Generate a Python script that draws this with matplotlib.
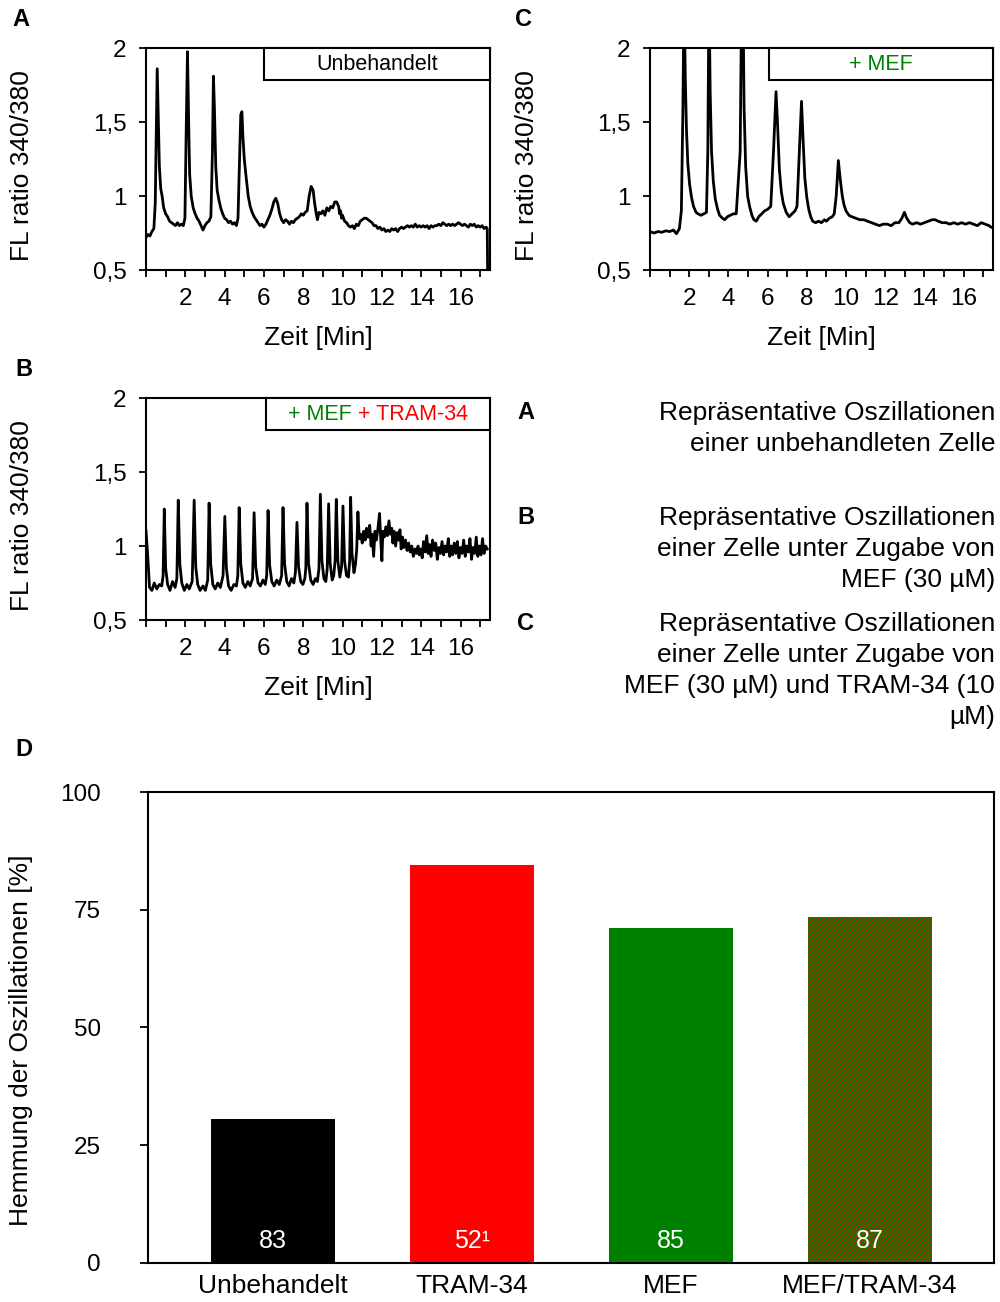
import matplotlib
matplotlib.use("Agg")
import matplotlib.pyplot as plt
from matplotlib.patches import Rectangle

plt.rcParams['font.family'] = ['Liberation Sans', 'DejaVu Sans']
plt.rcParams['hatch.linewidth'] = 0.5

# --- traces (time in min, FL ratio 340/380) ---
trace_unbehandelt = [
    (0.0, 0.72), (0.1, 0.74), (0.2, 0.73), (0.3, 0.76), (0.4, 0.78), (0.47, 0.95), (0.53, 1.5), (0.57, 1.86),
    (0.62, 1.55), (0.68, 1.2), (0.75, 1.05), (0.82, 1.0), (0.9, 0.92), (1.0, 0.88), (1.1, 0.86), (1.2, 0.83),
    (1.3, 0.82), (1.4, 0.81), (1.5, 0.80), (1.6, 0.82), (1.7, 0.80), (1.8, 0.81), (1.9, 0.80), (1.98, 0.85),
    (2.04, 1.4), (2.11, 1.975), (2.17, 1.5), (2.22, 1.15), (2.3, 1.0), (2.4, 0.92), (2.5, 0.88), (2.6, 0.85),
    (2.7, 0.83), (2.8, 0.80), (2.9, 0.77), (3.0, 0.80), (3.1, 0.82), (3.2, 0.83), (3.3, 0.86), (3.38, 1.3),
    (3.43, 1.81), (3.48, 1.6), (3.55, 1.2), (3.62, 1.04), (3.7, 0.98), (3.8, 0.92), (3.9, 0.88), (4.0, 0.85),
    (4.1, 0.84), (4.2, 0.82), (4.3, 0.83), (4.4, 0.81), (4.5, 0.82), (4.6, 0.80), (4.68, 0.85), (4.75, 1.2),
    (4.82, 1.55), (4.88, 1.57), (4.93, 1.40), (5.0, 1.25), (5.1, 1.12), (5.2, 1.0), (5.3, 0.93), (5.4, 0.89),
    (5.5, 0.86), (5.6, 0.84), (5.7, 0.82), (5.8, 0.80), (5.9, 0.81), (6.0, 0.79), (6.1, 0.81), (6.2, 0.84),
    (6.3, 0.87), (6.4, 0.91), (6.5, 0.96), (6.6, 0.985), (6.7, 0.95), (6.8, 0.88), (6.9, 0.84), (7.0, 0.82),
    (7.1, 0.84), (7.2, 0.83), (7.3, 0.81), (7.4, 0.83), (7.5, 0.82), (7.6, 0.84), (7.7, 0.85), (7.8, 0.86),
    (7.9, 0.88), (8.0, 0.87), (8.1, 0.89), (8.2, 0.90), (8.3, 1.0), (8.4, 1.065), (8.5, 1.04), (8.58, 0.95),
    (8.66, 0.88), (8.72, 0.84), (8.8, 0.89), (8.9, 0.88), (9.0, 0.90), (9.1, 0.87), (9.2, 0.92), (9.3, 0.90),
    (9.4, 0.93), (9.5, 0.92), (9.6, 0.96), (9.7, 0.96), (9.8, 0.93), (9.85, 0.88), (9.9, 0.90), (9.95, 0.85),
    (10.0, 0.87), (10.1, 0.83), (10.2, 0.82), (10.3, 0.80), (10.4, 0.79), (10.5, 0.80), (10.6, 0.78),
    (10.7, 0.81), (10.8, 0.80), (10.9, 0.83), (11.0, 0.84), (11.1, 0.85), (11.2, 0.85), (11.3, 0.84),
    (11.4, 0.83), (11.5, 0.82), (11.6, 0.80), (11.7, 0.80), (11.8, 0.78), (11.9, 0.79), (12.0, 0.77),
    (12.1, 0.78), (12.2, 0.76), (12.3, 0.77), (12.4, 0.76), (12.5, 0.78), (12.6, 0.77), (12.7, 0.78),
    (12.8, 0.76), (12.9, 0.78), (13.0, 0.79), (13.1, 0.78), (13.2, 0.79), (13.3, 0.80), (13.4, 0.79),
    (13.5, 0.80), (13.6, 0.79), (13.7, 0.81), (13.8, 0.79), (13.9, 0.80), (14.0, 0.79), (14.1, 0.80),
    (14.2, 0.79), (14.3, 0.80), (14.4, 0.78), (14.5, 0.80), (14.6, 0.79), (14.7, 0.80), (14.8, 0.80),
    (14.9, 0.81), (15.0, 0.80), (15.1, 0.82), (15.2, 0.81), (15.3, 0.80), (15.4, 0.81), (15.5, 0.80),
    (15.6, 0.81), (15.7, 0.80), (15.8, 0.81), (15.9, 0.82), (16.0, 0.81), (16.1, 0.80), (16.2, 0.81),
    (16.3, 0.80), (16.4, 0.79), (16.5, 0.81), (16.6, 0.80), (16.7, 0.81), (16.8, 0.79), (16.9, 0.80),
    (17.0, 0.79), (17.1, 0.80), (17.2, 0.78), (17.3, 0.79), (17.36, 0.78), (17.38, 0.48),
]

trace_mef = [
    (0.0, 0.76), (0.2, 0.75), (0.4, 0.76), (0.6, 0.755), (0.8, 0.765), (1.0, 0.76), (1.2, 0.77), (1.35, 0.745),
    (1.5, 0.78), (1.6, 0.9), (1.68, 1.6), (1.74, 2.4), (1.8, 1.8), (1.86, 1.45), (1.93, 1.22), (2.02, 1.08),
    (2.12, 0.99), (2.22, 0.93), (2.35, 0.89), (2.45, 0.88), (2.6, 0.87), (2.75, 0.88), (2.88, 0.89),
    (2.95, 1.3), (3.01, 2.4), (3.07, 1.7), (3.14, 1.3), (3.23, 1.1), (3.33, 0.98), (3.45, 0.91), (3.55, 0.87),
    (3.7, 0.85), (3.81, 0.84), (3.95, 0.86), (4.1, 0.87), (4.25, 0.88), (4.4, 0.88), (4.6, 1.3), (4.68, 2.4),
    (4.74, 2.4), (4.8, 1.6), (4.88, 1.2), (4.98, 1.0), (5.08, 0.93), (5.2, 0.87), (5.3, 0.84), (5.42, 0.83),
    (5.55, 0.86), (5.7, 0.88), (5.85, 0.90), (6.0, 0.91), (6.16, 0.93), (6.3, 1.3), (6.43, 1.705),
    (6.52, 1.45), (6.6, 1.18), (6.7, 1.03), (6.8, 0.95), (6.95, 0.89), (7.1, 0.86), (7.25, 0.88), (7.4, 0.90),
    (7.5, 0.93), (7.62, 1.3), (7.73, 1.64), (7.82, 1.35), (7.9, 1.12), (8.0, 0.99), (8.1, 0.91), (8.2, 0.86),
    (8.3, 0.83), (8.45, 0.82), (8.6, 0.83), (8.75, 0.82), (8.9, 0.84), (9.0, 0.83), (9.15, 0.85),
    (9.3, 0.86), (9.4, 0.88), (9.5, 1.0), (9.61, 1.24), (9.7, 1.12), (9.81, 1.0), (9.9, 0.94), (10.0, 0.90),
    (10.15, 0.87), (10.3, 0.86), (10.5, 0.85), (10.7, 0.84), (10.9, 0.84), (11.1, 0.83), (11.3, 0.82),
    (11.5, 0.81), (11.7, 0.80), (11.9, 0.81), (12.1, 0.81), (12.3, 0.80), (12.5, 0.82), (12.7, 0.82),
    (12.85, 0.85), (12.98, 0.89), (13.1, 0.85), (13.25, 0.82), (13.4, 0.81), (13.6, 0.82), (13.8, 0.81),
    (14.0, 0.82), (14.2, 0.83), (14.4, 0.84), (14.55, 0.84), (14.7, 0.83), (14.9, 0.82), (15.1, 0.82),
    (15.3, 0.81), (15.5, 0.82), (15.7, 0.81), (15.9, 0.82), (16.1, 0.81), (16.3, 0.82), (16.5, 0.81),
    (16.7, 0.80), (16.9, 0.82), (17.1, 0.81), (17.3, 0.80), (17.4, 0.79),
]

trace_mef_tram = [
    (0.0, 1.10), (0.08, 0.95), (0.18, 0.72), (0.3, 0.70), (0.42, 0.75), (0.55, 0.71), (0.68, 0.74), (0.8, 0.73),
    (0.87, 0.80), (0.93, 1.25), (1.0, 0.85), (1.1, 0.74), (1.22, 0.70), (1.35, 0.76), (1.48, 0.72), (1.57, 0.78),
    (1.64, 1.31), (1.72, 0.88), (1.82, 0.75), (1.95, 0.70), (2.08, 0.74), (2.2, 0.71), (2.35, 0.76), (2.45, 1.31),
    (2.53, 0.86), (2.63, 0.74), (2.75, 0.70), (2.9, 0.73), (3.02, 0.70), (3.14, 0.77), (3.21, 1.29), (3.29, 0.88),
    (3.4, 0.74), (3.52, 0.71), (3.65, 0.75), (3.78, 0.72), (3.92, 0.80), (4.01, 1.20), (4.09, 0.85), (4.2, 0.73),
    (4.33, 0.70), (4.47, 0.74), (4.6, 0.73), (4.67, 0.80), (4.74, 1.26), (4.82, 0.88), (4.93, 0.75), (5.05, 0.72),
    (5.18, 0.76), (5.3, 0.73), (5.42, 0.78), (5.5, 1.225), (5.58, 0.86), (5.7, 0.75), (5.82, 0.73), (5.95, 0.77),
    (6.07, 0.74), (6.14, 0.80), (6.21, 1.24), (6.29, 0.87), (6.4, 0.76), (6.52, 0.73), (6.65, 0.77), (6.78, 0.74),
    (6.9, 0.80), (6.97, 1.26), (7.05, 0.88), (7.16, 0.76), (7.28, 0.73), (7.4, 0.78), (7.52, 0.75), (7.6, 0.82),
    (7.68, 1.16), (7.76, 0.86), (7.87, 0.76), (7.98, 0.74), (8.08, 0.78), (8.13, 0.85), (8.19, 1.29), (8.27, 0.88),
    (8.38, 0.77), (8.5, 0.74), (8.62, 0.78), (8.72, 0.76), (8.8, 0.85), (8.87, 1.35), (8.95, 0.90), (9.05, 0.78),
    (9.15, 0.76), (9.22, 0.85), (9.29, 1.285), (9.37, 0.88), (9.47, 0.77), (9.55, 0.80), (9.62, 0.90),
    (9.68, 1.315), (9.76, 0.90), (9.86, 0.79), (9.95, 0.86), (10.02, 1.27), (10.1, 0.90), (10.2, 0.80),
    (10.3, 0.79), (10.36, 0.90), (10.41, 1.33), (10.48, 0.95), (10.58, 0.82), (10.66, 0.88), (10.72, 0.98),
    (10.78, 1.23), (10.85, 1.05), (10.92, 1.08), (11.0, 1.02), (11.08, 1.10), (11.15, 1.04), (11.22, 1.12),
    (11.3, 1.06), (11.38, 1.14), (11.45, 1.00), (11.5, 1.08), (11.58, 0.93), (11.65, 1.10), (11.72, 1.04),
    (11.8, 1.12), (11.88, 1.22), (11.94, 1.05), (12.0, 0.90), (12.05, 1.10), (12.12, 1.06), (12.2, 1.13),
    (12.28, 1.07), (12.36, 1.17), (12.43, 1.08), (12.5, 1.12), (12.56, 1.02), (12.62, 1.10), (12.7, 1.00),
    (12.78, 1.09), (12.85, 1.04), (12.92, 1.11), (12.98, 0.98), (13.05, 1.06), (13.12, 0.99), (13.2, 1.04),
    (13.28, 0.97), (13.36, 1.02), (13.44, 0.96), (13.52, 1.00), (13.6, 0.93), (13.68, 0.98), (13.76, 0.95),
    (13.84, 1.00), (13.9, 0.94), (13.98, 0.98), (14.05, 0.92), (14.12, 1.03), (14.2, 0.96), (14.28, 1.07),
    (14.35, 0.95), (14.42, 1.01), (14.5, 0.93), (14.58, 1.04), (14.66, 0.97), (14.74, 1.02), (14.82, 0.91),
    (14.9, 0.99), (14.98, 0.95), (15.06, 1.03), (15.14, 0.94), (15.22, 1.00), (15.3, 0.96), (15.38, 1.05),
    (15.45, 0.93), (15.53, 1.00), (15.6, 0.94), (15.68, 1.02), (15.76, 0.95), (15.84, 1.03), (15.92, 0.92),
    (16.0, 0.99), (16.08, 0.95), (16.16, 1.04), (16.24, 0.93), (16.32, 1.00), (16.4, 0.96), (16.48, 1.05),
    (16.56, 0.91), (16.64, 0.99), (16.72, 0.95), (16.8, 1.06), (16.88, 0.93), (16.96, 1.00), (17.04, 0.94),
    (17.12, 1.05), (17.2, 0.95), (17.28, 1.00), (17.36, 0.98),
]

# --- bar chart D ---
bar_labels = ["Unbehandelt", "TRAM-34", "MEF", "MEF/TRAM-34"]
bar_values = [30.5, 84.5, 71.2, 73.5]
bar_n = ["83", "52\u00b9", "85", "87"]

trace_xticks = list(range(0, 18))
trace_xticklabels = ["" if (t == 0 or t % 2) else str(t) for t in trace_xticks]
trace_yticks = [0.5, 1, 1.5, 2]
trace_yticklabels = ["0,5", "1", "1,5", "2"]

fig = plt.figure(figsize=(10, 13.02), dpi=100)
renderer = fig.canvas.get_renderer()


def trace_panel(rect, data, box_parts, box_x0):
    ax = fig.add_axes(rect)
    t = [p[0] for p in data]
    v = [p[1] for p in data]
    ax.plot(t, v, color='black', lw=2)
    ax.set_xlim(0, 17.5)
    ax.set_ylim(0.5, 2)
    ax.set_xticks(trace_xticks)
    ax.set_xticklabels(trace_xticklabels)
    ax.set_yticks(trace_yticks)
    ax.set_yticklabels(trace_yticklabels)
    ax.tick_params(direction='out', length=5, width=1.3, labelsize=17.5, pad=9)
    ax.tick_params(axis='x', pad=8)
    for s in ax.spines.values():
        s.set_linewidth(1.5)
    ax.set_xlabel("Zeit [Min]", fontsize=19)
    ax.xaxis.set_label_coords(0.5, -0.25)
    ax.set_ylabel("FL ratio 340/380", fontsize=19)
    ax.yaxis.set_label_coords(-0.325, 0.47)
    # label box in the upper right corner
    ax.add_patch(Rectangle((box_x0, 0.858), 1 - box_x0, 0.142, transform=ax.transAxes,
                           facecolor='white', edgecolor='black', lw=1.5, zorder=5, clip_on=False))
    # text pieces placed one after the other, whole line centred in the box
    cx = box_x0 + (1 - box_x0) / 2
    gap = 0.02
    pieces = [ax.text(0, 0.925, txt, color=col, fontsize=15.5, ha='left', va='center',
                      transform=ax.transAxes, zorder=6) for txt, col in box_parts]
    ax_w = ax.get_window_extent(renderer).width
    widths = [p.get_window_extent(renderer).width / ax_w for p in pieces]
    x0 = cx - (sum(widths) + gap * (len(widths) - 1)) / 2
    for p, w in zip(pieces, widths):
        p.set_x(x0)
        x0 += w + gap
    return ax


axA = trace_panel([0.146, 0.7926, 0.344, 0.1705], trace_unbehandelt,
                  [("Unbehandelt", 'black')], 0.343)
axC = trace_panel([0.650, 0.7926, 0.343, 0.1705], trace_mef,
                  [("+ MEF", '#008000')], 0.347)
axB = trace_panel([0.146, 0.5238, 0.344, 0.1705], trace_mef_tram,
                  [("+ MEF", '#008000'), ("+ TRAM-34", '#FF0000')], 0.349)

# panel letters
for x, y, s in [(0.012, 0.985, "A"), (0.515, 0.985, "C"), (0.015, 0.716, "B"), (0.015, 0.424, "D")]:
    fig.text(x, y, s, fontsize=17, fontweight='bold', va='center', ha='left')

# legend text on the right
desc = [
    ("A", ["Repräsentative Oszillationen", "einer unbehandleten Zelle"], 413),
    ("B", ["Repräsentative Oszillationen", "einer Zelle unter Zugabe von", "MEF (30 µM)"], 518),
    ("C", ["Repräsentative Oszillationen", "einer Zelle unter Zugabe von",
           "MEF (30 µM) und TRAM-34 (10", "µM)"], 624),
]
for letter, lines, y0 in desc:
    fig.text(0.517, 1 - y0 / 1302, letter, fontsize=17, fontweight='bold', va='center', ha='left')
    for i, line in enumerate(lines):
        fig.text(0.995, 1 - (y0 + 31 * i) / 1302, line, fontsize=19, va='center', ha='right')

# bar chart
axD = fig.add_axes([0.148, 0.0300, 0.846, 0.3617])
x = list(range(len(bar_labels)))
colors = ['black', '#FF0000', '#008000', '#008000']
bars = axD.bar(x, bar_values, width=0.623, color=colors, linewidth=0)
bars[3].set_hatch('/' * 10)
bars[3].set_edgecolor('#FF0000')
bars[3].set_linewidth(0)
for xi, n in zip(x, bar_n):
    axD.text(xi, 4.7, n, color='white', fontsize=18, ha='center', va='center')
axD.set_xlim(-0.628, 3.623)
axD.set_ylim(0, 100)
axD.set_yticks([0, 25, 50, 75, 100])
axD.set_xticks(x)
axD.set_xticklabels(bar_labels, fontsize=19)
axD.tick_params(axis='y', direction='out', length=6, width=1.3, labelsize=17.5, pad=28)
axD.tick_params(axis='x', length=0, pad=8)
for s in axD.spines.values():
    s.set_linewidth(1.5)
axD.set_ylabel("Hemmung der Oszillationen [%]", fontsize=19)
axD.yaxis.set_label_coords(-0.136, 0.473)

fig.savefig("out.png", dpi=100)
